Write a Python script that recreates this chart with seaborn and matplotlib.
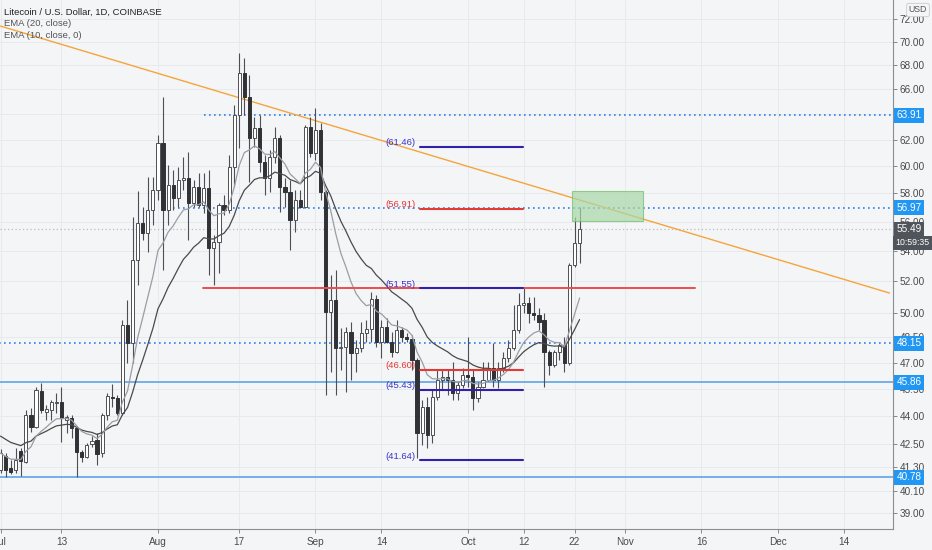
import matplotlib
matplotlib.use("Agg")
import matplotlib.pyplot as plt
from matplotlib.ticker import FixedLocator, FixedFormatter, NullLocator
import numpy as np
import pandas as pd
import seaborn as sns

sns.set_theme(style="white")
plt.rcParams["font.family"] = ["Liberation Sans Narrow", "Liberation Sans", "DejaVu Sans"]

# daily LTC/USD candles, 2020-07-01 .. 2020-10-23
dates = pd.date_range("2020-07-01", "2020-10-23", freq="D")
opens = [41.13, 41.85, 41.23, 41.13, 42.1, 41.55, 44.05, 43.4, 45.37, 44.21,
         44.32, 44.7, 44.76, 43.77, 43.88, 43.34, 42.05, 41.8, 42.49, 42.7,
         42.0, 44.05, 45.04, 44.98, 44.15, 49.25, 48.16, 53.39, 55.9, 55.21,
         56.82,
         58.24, 61.75, 56.82, 58.6, 57.67, 58.97, 59.12, 57.32, 58.45, 57.17,
         58.38, 54.19, 54.6, 57.17, 56.82, 59.93, 63.93, 67.36, 65.37, 62.13,
         62.91, 60.3, 59.12, 60.68, 62.13, 58.45, 58.1, 56.11, 57.53, 57.03,
         62.98,
         60.98, 62.75, 58.1, 50.06, 50.81, 47.87, 47.93, 48.83, 47.57, 47.87,
         48.77, 49.01, 50.87, 48.22, 49.13, 48.22, 47.63, 48.95, 48.52, 48.4,
         47.16, 43.07, 44.48, 42.97, 45.04, 46.0, 46.17, 46.0, 45.26, 45.71,
         46.28, 46.17, 44.98, 45.6, 46.0, 46.69, 46.0, 46.69, 47.28, 47.87,
         48.95, 50.5, 50.62, 50.0, 49.87, 49.56, 47.63, 46.87, 47.63, 48.04,
         46.98, 53.06, 54.54]
highs = [42.22, 42.0, 41.65, 42.3, 42.3, 44.32, 44.43, 45.6, 45.82, 44.6,
         44.87, 45.26, 45.6, 44.05, 44.05, 43.4, 42.17, 42.54, 42.91, 43.07,
         44.15, 45.26, 45.76, 45.15, 49.56, 50.81, 56.32, 58.17, 57.03, 59.19,
         59.19,
         62.36, 65.37, 60.08, 59.71, 59.93, 60.68, 61.06, 58.97, 59.49, 59.49,
         59.71, 55.08, 57.32, 57.88, 60.83, 64.73, 69.05, 68.62, 67.2, 63.78,
         63.93, 60.83, 61.21, 62.98, 62.36, 59.12, 58.97, 58.24, 58.24, 63.14,
         63.78,
         64.49, 63.3, 58.24, 52.4, 52.73, 49.07, 49.13, 49.44, 48.34, 49.44,
         49.56, 51.31, 51.12, 49.56, 49.68, 48.83, 49.56, 49.13, 48.77, 48.64,
         47.28, 44.87, 45.04, 45.43, 46.57, 46.57, 46.57, 47.05, 45.88, 46.69,
         48.52, 46.57, 45.88, 47.05, 47.05, 48.16, 47.05, 47.63, 48.34, 50.5,
         51.25, 51.57, 51.0, 51.0, 50.31, 50.0, 47.75, 47.75, 48.16, 48.52,
         53.19, 56.32, 57.03]
lows = [40.98, 40.78, 40.93, 40.98, 40.83, 41.5, 43.12, 43.34, 44.15, 43.77,
        43.77, 44.15, 42.6, 43.07, 42.8, 40.78, 41.55, 41.75, 42.33, 41.39,
        41.8, 43.77, 44.48, 44.05, 44.05, 46.98, 46.98, 51.76, 54.74, 53.93,
        55.77,
        57.53, 52.73, 55.77, 56.82, 57.03, 58.24, 54.74, 57.03, 57.03, 56.61,
        52.4, 51.76, 52.53, 56.47, 56.61, 58.45, 61.36, 63.93, 58.82, 61.44,
        59.56, 57.88, 58.1, 60.23, 56.68, 57.03, 54.06, 55.28, 56.96, 56.96,
        60.68,
        60.46, 57.53, 45.15, 46.46, 45.15, 46.57, 45.32, 46.0, 46.46, 47.63,
        48.22, 48.22, 47.93, 47.28, 48.16, 47.34, 47.57, 48.22, 48.22, 46.57,
        41.75, 42.44, 42.28, 42.54, 44.87, 45.43, 45.15, 44.87, 44.87, 45.54,
        45.6, 44.32, 44.76, 45.54, 45.94, 45.6, 45.54, 46.46, 47.05, 47.75,
        48.77, 50.0, 49.38, 49.56, 48.95, 45.6, 46.28, 46.75, 47.16, 46.46,
        46.87, 52.93, 53.19]
closes = [42.0, 41.13, 41.03, 41.65, 41.6, 44.05, 43.4, 45.43, 44.32, 44.37,
          44.76, 44.76, 43.88, 43.93, 43.34, 42.05, 41.8, 42.44, 42.65, 41.95,
          44.05, 45.1, 44.98, 44.15, 49.25, 48.16, 53.39, 55.9, 55.21, 56.82,
          58.24,
          61.75, 56.82, 58.6, 57.67, 58.97, 59.12, 57.32, 58.45, 57.17, 58.38,
          54.19, 54.6, 57.17, 56.82, 59.93, 63.93, 67.36, 65.37, 62.13, 62.91,
          60.3, 59.12, 60.68, 62.13, 58.45, 58.1, 56.11, 57.53, 57.03, 62.98,
          60.98,
          62.75, 58.1, 50.06, 50.81, 47.87, 47.93, 48.83, 47.57, 47.87, 48.77,
          49.01, 50.87, 48.22, 49.13, 48.22, 47.63, 48.95, 48.52, 48.4, 47.16,
          43.07, 44.48, 42.97, 45.04, 46.0, 46.17, 46.0, 45.26, 45.71, 46.28,
          46.17, 44.98, 45.6, 46.0, 46.69, 46.0, 46.69, 47.28, 47.87, 48.95,
          50.5, 50.62, 50.0, 49.87, 49.44, 47.63, 46.87, 47.63, 48.04, 46.98,
          53.06, 54.54, 55.49]

# EMA values just before the first visible candle (read at the left edge)
ema20_seed = 43.0
ema10_seed = 42.0

# drawings on the chart
trend_days = [0, 175]
trend_prices = [71.4, 51.25]
dotted_levels = [63.91, 56.97, 48.15]
dotted_starts = [40, 34, -1]
solid_levels = [45.86, 40.78]
last_price = 55.49
countdown = "10:59:35"
red_level = 51.55
red_span = [39.9, 136.7]
fib_span = [82.6, 102.8]
fib_values = [61.46, 56.91, 51.55, 46.60, 45.43, 41.64]
fib_colors = ["#2f22a8", "#e53935", "#2f22a8", "#e53935", "#2f22a8", "#2f22a8"]
zone_days = [112.5, 126.5]
zone_prices = [56.05, 58.2]

ytick_values = [39, 40.1, 41.3, 42.5, 44, 45.5, 47, 48.5, 50, 52, 54, 56,
                58, 60, 62, 64, 66, 68, 70, 72]
xtick_days = [0, 12, 31, 47, 62, 75, 92, 103, 113, 123, 138, 153, 166]
xtick_labels = ["Jul", "13", "Aug", "17", "Sep", "14", "Oct", "12", "22",
                "Nov", "16", "Dec", "14"]

df = pd.DataFrame({"date": dates, "open": opens, "high": highs,
                   "low": lows, "close": closes})
df["day"] = (df["date"] - df["date"].iloc[0]).dt.days
df["ema20"] = pd.Series([ema20_seed] + closes).ewm(span=20, adjust=False).mean().iloc[1:].values
df["ema10"] = pd.Series([ema10_seed] + closes).ewm(span=10, adjust=False).mean().iloc[1:].values
up = df["close"] >= df["open"]

bg = "#f4f5f7"
fig = plt.figure(figsize=(9.32, 5.5), dpi=100, facecolor=bg)
ax = fig.add_axes([0, 1 - 529 / 550, 893 / 932, 529 / 550])
ax.set_facecolor(bg)
ax.set_yscale("log")
ax.set_xlim(-0.1, 175.7)
ax.set_ylim(38.23, 73.75)

# grid
for v in ytick_values:
    ax.axhline(v, color="#e7e9ec", lw=0.7, zorder=0)
for d in xtick_days:
    ax.axvline(d, color="#e7e9ec", lw=0.7, zorder=0)

# horizontal levels
for lvl, start in zip(dotted_levels, dotted_starts):
    ax.plot([start, 176], [lvl, lvl], color="#2f80ed", lw=1.2,
            linestyle=(0, (1, 2)), zorder=1)
for lvl in solid_levels:
    ax.axhline(lvl, color="#6aaae8", lw=1.3, zorder=1)
ax.axhline(last_price, color="#b8bcc2", lw=0.9, linestyle=(0, (1, 2)), zorder=1)

# trend line
sns.lineplot(x=trend_days, y=trend_prices, color="#f5a53a", lw=1.0, ax=ax,
             zorder=2)

# candles
ax.vlines(df["day"], df["low"], df["high"], color="#4d4f55", lw=0.8, zorder=3)
body_low = np.minimum(df["open"], df["close"])
body_h = np.abs(df["close"] - df["open"]).clip(lower=0.04)
ax.bar(df["day"][up], body_h[up], bottom=body_low[up], width=0.62,
       color="white", edgecolor="#4d4f55", linewidth=0.7, zorder=4)
ax.bar(df["day"][~up], body_h[~up], bottom=body_low[~up], width=0.62,
       color="#303236", edgecolor="#303236", linewidth=0.7, zorder=4)

# moving averages
sns.lineplot(data=df, x="day", y="ema20", color="#4a4a4a", lw=0.9, ax=ax, zorder=5)
sns.lineplot(data=df, x="day", y="ema10", color="#9a9da3", lw=0.9, ax=ax, zorder=5)

# red level and fib-like levels
ax.plot(red_span, [red_level, red_level], color="#ef4b4b", lw=1.4, zorder=6)
for val, col in zip(fib_values, fib_colors):
    ax.plot(fib_span, [val, val], color=col, lw=1.5, zorder=6)
    ax.annotate(f"({val:.2f})", (fib_span[0], val), xytext=(-3, 3),
                textcoords="offset points", ha="right", va="center",
                color="#e53935" if col == "#e53935" else "#3a34c8",
                fontsize=6.8, zorder=7)

# target zone
ax.fill_between(zone_days, zone_prices[0], zone_prices[1], color="#a9d8a6",
                alpha=0.7, edgecolor="#6cbf6a", lw=0.8, zorder=6)

# axes styling
for s in ["top", "left"]:
    ax.spines[s].set_visible(False)
ax.spines["right"].set_color("#8a8d93")
ax.spines["bottom"].set_color("#8a8d93")
ax.spines["right"].set_linewidth(0.8)
ax.spines["bottom"].set_linewidth(0.8)
ax.yaxis.tick_right()
ax.yaxis.set_major_locator(FixedLocator(ytick_values))
ax.yaxis.set_major_formatter(FixedFormatter([f"{v:.2f}" for v in ytick_values]))
ax.yaxis.set_minor_locator(NullLocator())
ax.set_xticks(xtick_days, xtick_labels)
ax.tick_params(axis="y", which="major", right=True, length=3, width=0.6,
               color="#777", labelsize=7.2, labelcolor="#4a4a4a", pad=2)
ax.tick_params(axis="x", bottom=True, length=3, width=0.6, color="#777",
               labelsize=7.2, labelcolor="#4a4a4a", pad=3)
ax.set_xlabel("")
ax.set_ylabel("")

# price labels on the scale
ytr = ax.get_yaxis_transform()
for lvl in dotted_levels + solid_levels:
    ax.text(1.004, lvl, f"{lvl:.2f}", transform=ytr, ha="left", va="center",
            color="white", fontsize=7.2, clip_on=False, zorder=10,
            bbox=dict(boxstyle="square,pad=0.25", fc="#2196f3", ec="none"))
ax.text(1.004, last_price, f"{last_price:.2f}", transform=ytr, ha="left",
        va="center", color="white", fontsize=7.2, clip_on=False, zorder=10,
        bbox=dict(boxstyle="square,pad=0.25", fc="#50545b", ec="none"))
ax.text(1.003, 54.54, countdown, transform=ytr, ha="left", va="center",
        color="white", fontsize=6.3, clip_on=False, zorder=10,
        bbox=dict(boxstyle="square,pad=0.25", fc="#50545b", ec="none"))
fig.text(918 / 932, 1 - 10 / 550, "USD", ha="center", va="center",
         fontsize=6.3, color="#555",
         bbox=dict(boxstyle="round,pad=0.25", fc=bg, ec="#c8cbd0", lw=0.6))

# legend lines top-left
fig.text(4 / 932, 1 - 12 / 550, "Litecoin / U.S. Dollar, 1D, COINBASE",
         fontsize=6.8, color="#222", va="center")
fig.text(4 / 932, 1 - 24 / 550, "EMA (20, close)", fontsize=6.8,
         color="#555", va="center")
fig.text(4 / 932, 1 - 36 / 550, "EMA (10, close, 0)", fontsize=6.8,
         color="#555", va="center")

fig.savefig("out.png", dpi=100, facecolor=bg)
